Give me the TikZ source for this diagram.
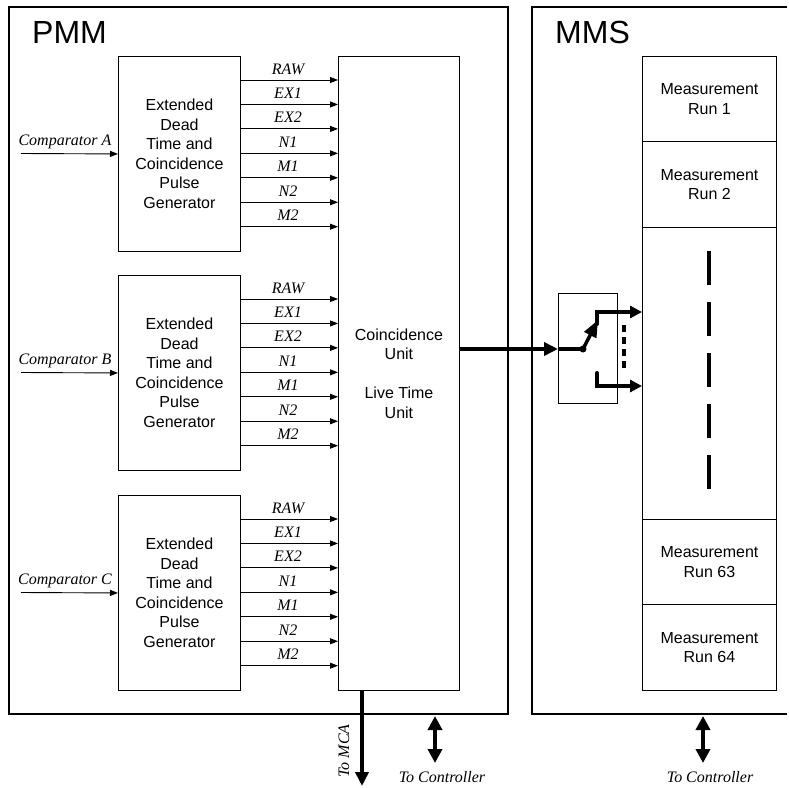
\documentclass[tikz,border=0pt]{standalone}
\usepackage{fontspec}
\setmainfont{Liberation Sans}
\newfontfamily\serifit{Liberation Serif}[ItalicFont={Liberation Serif Italic}]
\usetikzlibrary{arrows.meta}
\tikzset{
  frame/.style={line width=1.4pt},
  blk/.style={draw, line width=0.9pt, anchor=north west, inner sep=0pt, align=center,
              font=\fontsize{16}{19.5}\selectfont},
  sig/.style={line width=0.9pt, -{Triangle[length=8pt,width=6pt]}},
  siglab/.style={anchor=base, font=\serifit\itshape\fontsize{16}{19}\selectfont, inner sep=0pt},
  fat/.style={line width=4pt},
  fatarrow/.style={line width=4pt, -{Triangle[length=14pt,width=13pt]}},
  dblarrow/.style={line width=4pt, {Triangle[length=14pt,width=14pt]}-{Triangle[length=14pt,width=14pt]}},
  biglab/.style={anchor=base west, inner sep=0pt, font=\fontsize{32}{36}\selectfont},
}
\begin{document}
\begin{tikzpicture}[x=1pt,y=-1pt]
\useasboundingbox (0,0) rectangle (789,787);
% frames
\draw[frame] (9,7) rectangle (508,714);
\draw[frame] (787,7) -- (532,7) -- (532,714) -- (787,714);
\node[biglab] (pmm) at (32,43) {PMM};
\node[biglab] (mms) at (555,43) {MMS};

% coincidence unit
\node[blk, minimum width=121pt, minimum height=634pt] (cu) at (338,56)
  {Coincidence\\Unit\\[19.5pt]Live Time\\Unit};

% generator boxes
\foreach \n/\top/\c in {1/56/A, 2/275/B, 3/495/C}{
  \node[blk, minimum width=122pt, minimum height=195pt] (g\n) at (118,\top)
    {Extended\\Dead\\Time and\\Coincidence\\Pulse\\Generator};
  \coordinate (cin\n) at (21,\top+97.5);
  \draw[sig] (cin\n) -- (g\n.west);
  \node[siglab] (cl\n) at (65,\top+89) {Comparator \c};
  \foreach \lab [count=\i] in {RAW,EX1,EX2,N1,M1,N2,M2}{
    \coordinate (s\n\i) at (240,\top+24+\i*24.45-24.45);
    \draw[sig] (s\n\i) -- (cu.west |- s\n\i);
    \node[siglab] (l\n\i) at (288,\top+18+\i*24.45-24.45) {\lab};
  }
}

% measurement runs
\node[blk, minimum width=134pt, minimum height=85pt] (m1) at (642,56) {Measurement\\Run 1};
\node[blk, minimum width=134pt, minimum height=86pt] (m2) at (642,141) {Measurement\\Run 2};
\node[blk, minimum width=134pt, minimum height=292pt] (mid) at (642,227) {};
\node[blk, minimum width=134pt, minimum height=85pt] (m63) at (642,519) {Measurement\\Run 63};
\node[blk, minimum width=134pt, minimum height=86pt] (m64) at (642,604) {Measurement\\Run 64};
\draw[line width=4pt, dash pattern=on 34pt off 17pt] (709,251) -- (709,490);

% switch
\node[blk, minimum width=59pt, minimum height=110pt] (sw) at (558,293) {};
\coordinate (dot) at (583,349);
\coordinate (cuout) at (cu.east |- dot);
\draw[fatarrow] (cuout) -- (sw.west |- dot);
\draw[fat] (sw.west |- dot) -- (dot);
\fill (dot) circle (3.5pt);
\draw[line width=3.5pt, -{Triangle[length=17pt,width=13pt]}] (dot) -- (598,320);
\coordinate (t1) at (m1.west |- 0,312);
\coordinate (t2) at (m1.west |- 0,386);
\draw[line width=4pt, line cap=round, -{Triangle[length=12pt,width=12pt]}] (597,324) |- (t1);
\draw[line width=4pt, line cap=round, -{Triangle[length=12pt,width=12pt]}] (597,373) |- (t2);
\draw[line width=4pt, dash pattern=on 7pt off 5pt] (624,325) -- (624,372);

% bottom connectors
\coordinate (mca) at (362,786);
\draw[fatarrow] (cu.south -| mca) -- (mca);
\node[siglab, rotate=90, anchor=center] (mcal) at (344,751) {To MCA};
\coordinate (c1a) at (435,716);
\coordinate (c1b) at (435,763);
\draw[dblarrow] (c1a) -- (c1b);
\node[siglab] (ctl1) at (442,782) {To Controller};
\coordinate (c2a) at (703,716);
\coordinate (c2b) at (703,763);
\draw[dblarrow] (c2a) -- (c2b);
\node[siglab] (ctl2) at (710,782) {To Controller};
\end{tikzpicture}
\end{document}
